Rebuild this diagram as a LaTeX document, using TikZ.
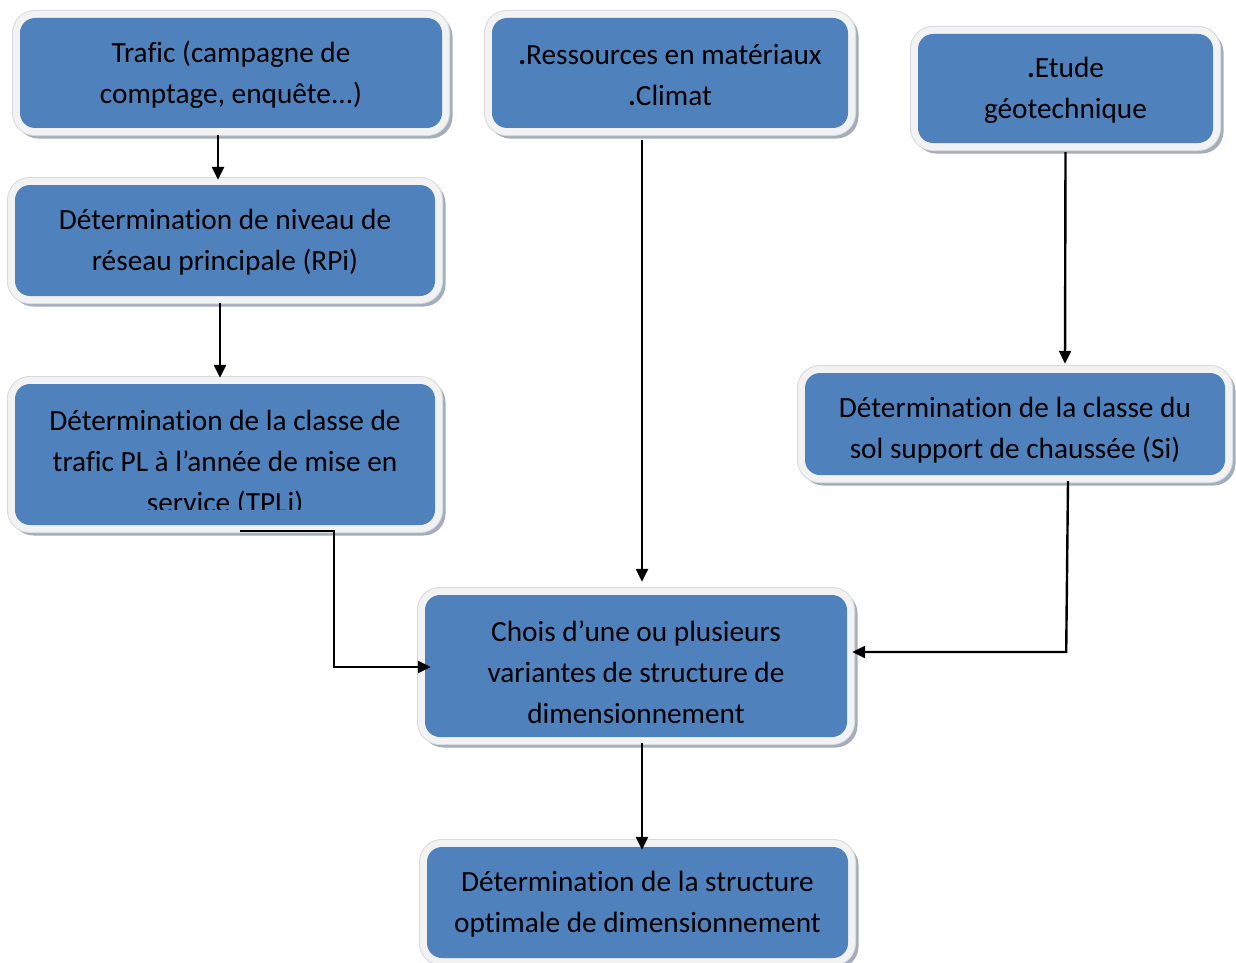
\documentclass[tikz,border=0pt]{standalone}
\usepackage{fontspec}
\setmainfont{Carlito}[Ligatures={NoCommon}]
\usetikzlibrary{arrows.meta,calc}
\definecolor{boxblue}{HTML}{4F81BD}
\definecolor{boxrim}{HTML}{F2F2F2}
\definecolor{rimline}{HTML}{D6DAE0}
\definecolor{boxshadow}{HTML}{A3AEBD}
\tikzset{
  box/.style={rectangle, rounded corners=15pt, fill=boxblue, inner sep=0pt,
    preaction={draw=boxshadow, line width=14pt, transform canvas={shift={(3.5pt,-3.5pt)}}},
    preaction={draw=rimline, line width=16pt},
    preaction={draw=boxrim, line width=14pt}},
  lbl/.style={align=center, font=\fontsize{29.3pt}{41pt}\selectfont, text=black, inner sep=0pt},
  arr/.style={-{Triangle[length=13pt,width=12pt]}, line width=2.4pt, black},
}
\begin{document}
\begin{tikzpicture}[x=1pt,y=-1pt]
\path[use as bounding box, clip] (0,0) rectangle (1236,963);
\fill[white] (0,0) rectangle (1236,963);
% boxes
\node[box, minimum width=422pt, minimum height=110pt] (t1) at (231,73) {};
\node[box, minimum width=356pt, minimum height=110pt] (t2) at (670,73) {};
\node[box, minimum width=295pt, minimum height=109pt] (t3) at (1065.5,88.5) {};
\node[box, minimum width=420pt, minimum height=111pt] (t4) at (225,240.5) {};
\node[box, minimum width=420pt, minimum height=141pt] (t5) at (225,454.5) {};
\node[box, minimum width=420pt, minimum height=102pt] (t6) at (1015,424) {};
\node[box, minimum width=422pt, minimum height=142pt] (t7) at (636,666) {};
\node[box, minimum width=421pt, minimum height=111pt] (t8) at (637.5,902.5) {};
% texts
\node[lbl] (l1) at (231,75) {Trafic (campagne de\\comptage, enquête...)};
\node[lbl] (l2) at (670,75) {\textbf{.}Ressources en matériaux\\\textbf{.}Climat};
\node[lbl] (l3) at (1065.5,90) {\textbf{.}Etude\\géotechnique};
\node[lbl] (l4) at (225,242) {Détermination de niveau de\\réseau principale (RPi)};
\begin{scope}
\clip (15,384) rectangle (435,509);
\node[lbl] (l5) at (225,463.5) {Détermination de la classe de\\trafic PL à l’année de mise en\\service (TPLi)};
\end{scope}
\node[lbl] (l6) at (1015,430) {Détermination de la classe du\\sol support de chaussée (Si)};
\node[lbl] (l7) at (636,672) {Chois d’une ou plusieurs\\variantes de structure de\\dimensionnement};
\node[lbl] (l8) at (637.5,904) {Détermination de la structure\\optimale de dimensionnement};
% connectors
\draw[arr] ($(t1.south)+(-13,7)$) -- ($(t4.north)+(-7,-5)$);
\draw[arr] ($(t4.south)+(-5,7)$) -- ($(t5.north)+(-5,-6)$);
\draw[arr] ($(t2.south)+(-28,12)$) -- ($(t7.north)+(6,-13)$);
\draw[arr] ($(t3.south)+(0,9)$) -- ($(t6.north)+(50,-9)$);
\draw[arr] ($(t5.south)+(15,6)$) -| ($(t7.west)+(-91,1)$) -- ($(t7.west)+(6,1)$);
\draw[arr] ($(t6.south)+(53,6)$) -- ($(t7.east)+(219,-14)$) -- ($(t7.east)+(5,-14)$);
\draw[arr] ($(t7.south)+(6,6)$) -- ($(t8.north)+(4.5,3)$);
\end{tikzpicture}
\end{document}
